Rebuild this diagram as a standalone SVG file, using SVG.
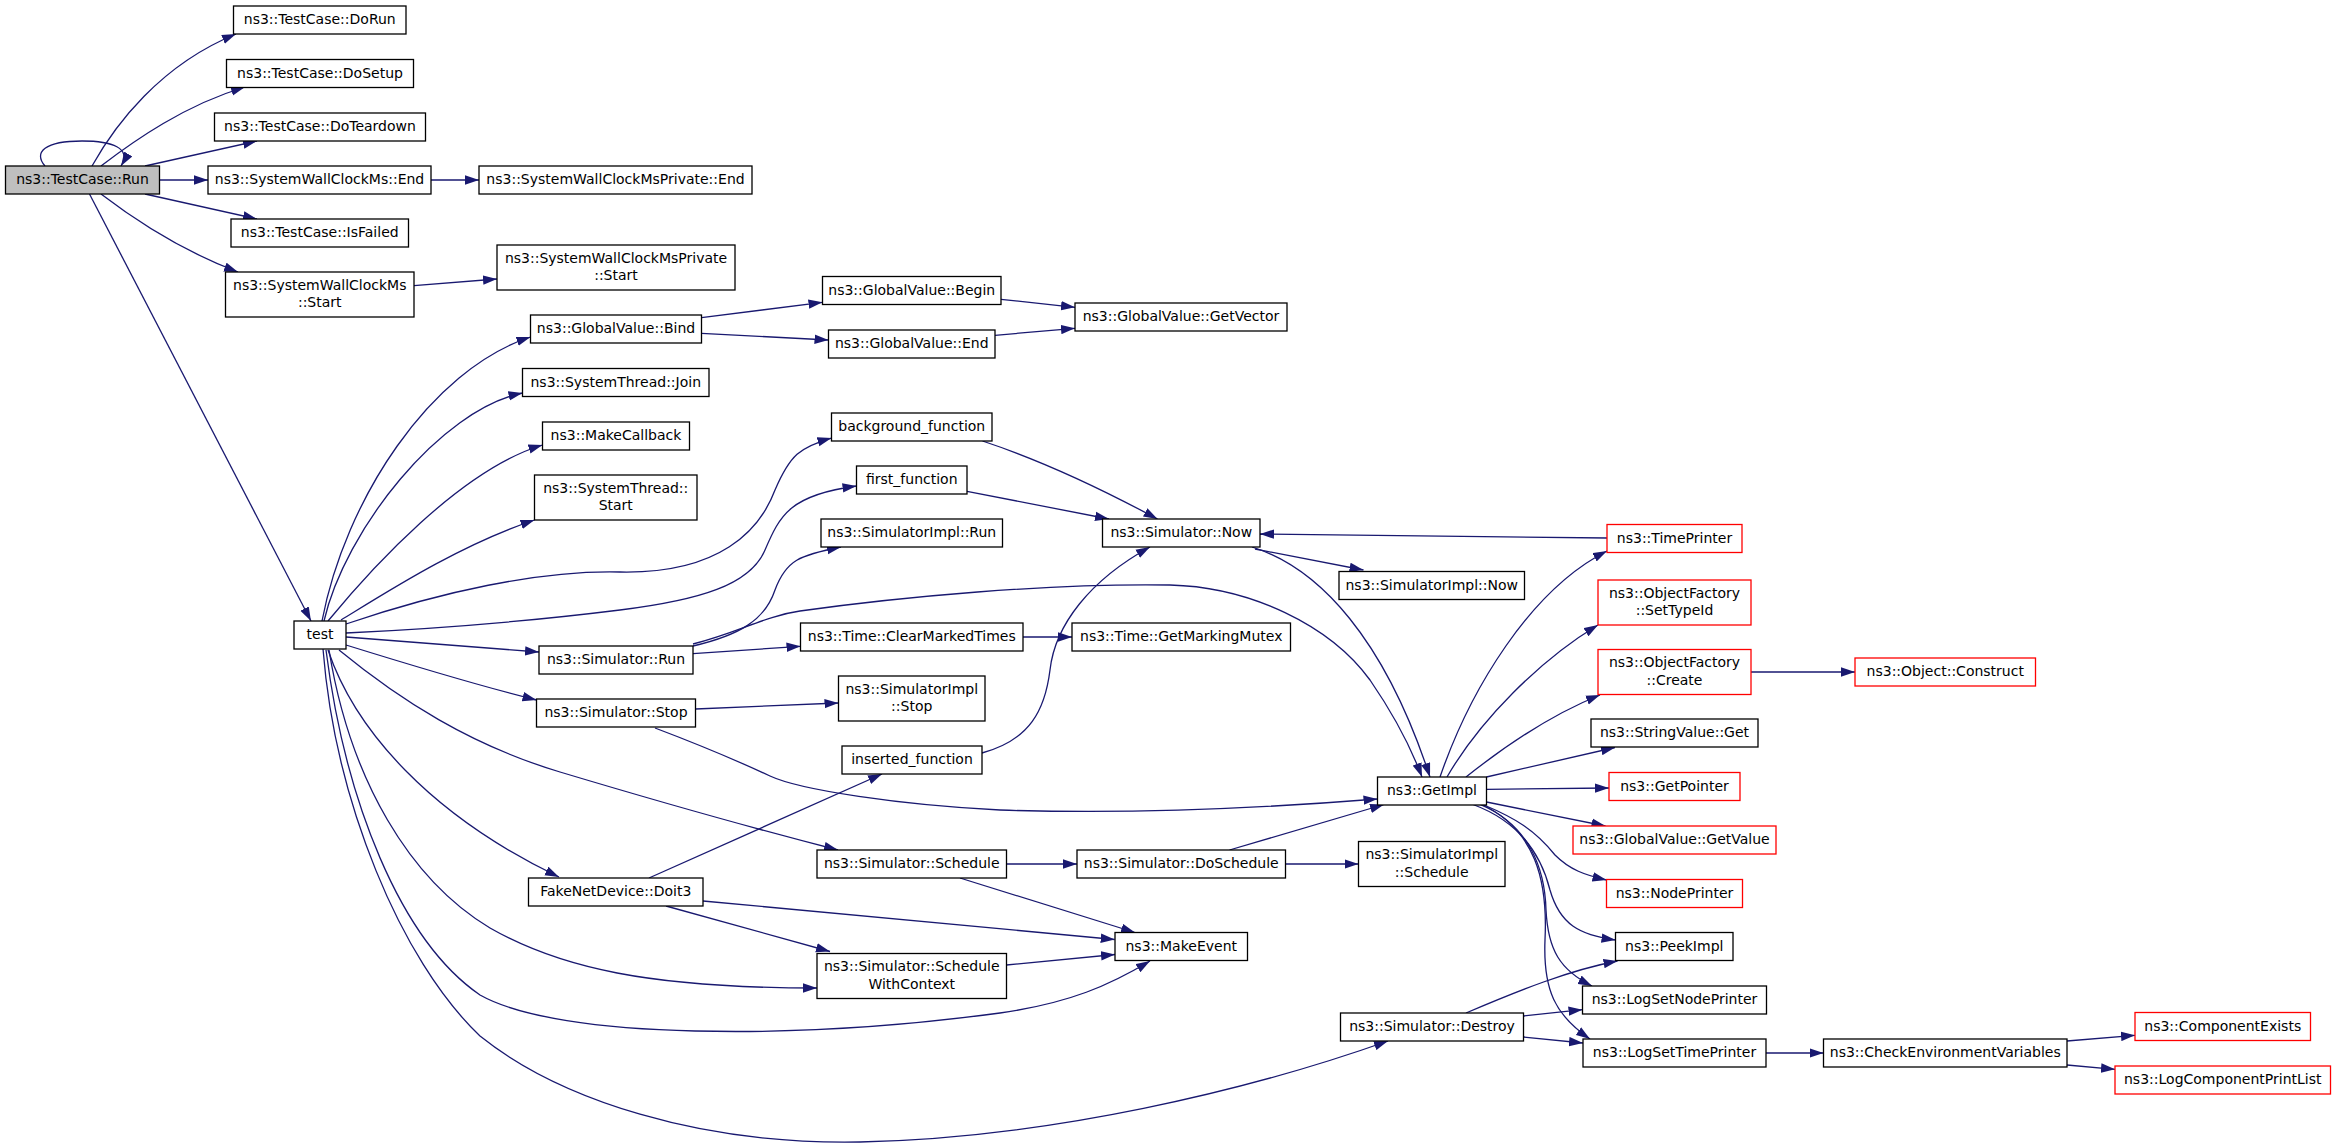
<svg xmlns="http://www.w3.org/2000/svg" width="2336" height="1148" viewBox="0 0 2336 1148">
<style>
.n rect{fill:#fff;stroke:#000;stroke-width:1.3}
.n.r rect{stroke:#ff0000}
.n.g rect{fill:#bfbfbf}
.n text{font-family:"DejaVu Sans","Liberation Sans",sans-serif;font-size:14px;text-anchor:middle;fill:#000}
#edges path{fill:none;stroke:#191970;stroke-width:1.3;marker-end:url(#a)}
</style>
<defs>
<marker id="a" markerUnits="userSpaceOnUse" markerWidth="14" markerHeight="10" viewBox="0 0 14 10" refX="14" refY="5" orient="auto"><path d="M0,0.3 L14,5 L0,9.7 z" fill="#191970"/></marker>
</defs>
<rect width="2336" height="1148" fill="#fff"/>
<g id="edges">
<path d="M92,166 C115,125 160,65 236,34"/>
<path d="M101,166 C135,140 185,105 245,87"/>
<path d="M145,166 L257,141"/>
<path d="M45,166 C33,152 45,141 82,141 C112,141 132,148 121,166"/>
<path d="M159.5,180 L208,180"/>
<path d="M431,180 L479,180"/>
<path d="M145,194 L257,219"/>
<path d="M101,194 C135,220 185,252 238,272"/>
<path d="M414,285.7 L497,279"/>
<path d="M89.5,194 L311,621"/>
<path d="M701.5,317.7 L822.5,302.3"/>
<path d="M701.5,333.3 L828.5,340"/>
<path d="M1001,299.3 L1075,307.3"/>
<path d="M995,335.3 L1075,328.3"/>
<path d="M322,621 C345,500 430,370 530.5,337"/>
<path d="M324,621 C345,530 440,410 522.5,393"/>
<path d="M328,621 C370,570 460,470 542.5,445"/>
<path d="M341,620 C390,590 460,545 534.5,520"/>
<path d="M346,624 C440,592 540,570 620,572 C720,574 760,530 775,490 C790,455 800,447 831.5,438"/>
<path d="M346,633 C450,628 540,620 620,610 C700,600 750,585 765,550 C780,515 790,495 856.5,486"/>
<path d="M346,637 L539,652"/>
<path d="M346,645 C420,668 480,686 536.5,700"/>
<path d="M339,650 C400,700 470,745 560,772 C660,802 760,830 838,850"/>
<path d="M328,650 C355,730 430,815 559,877"/>
<path d="M329,650 C350,780 410,880 490,928 C560,968 650,988 817,988"/>
<path d="M326,650 C345,800 400,940 480,995 C560,1040 800,1040 1000,1013 C1070,1003 1110,985 1150,961"/>
<path d="M323,649 C335,800 400,960 480,1036 C560,1100 700,1145 860,1142 C1050,1138 1250,1090 1388,1041"/>
<path d="M693,646 C740,635 765,620 775,590 C786,560 800,555 841,547"/>
<path d="M693,653.7 L800.5,646.3"/>
<path d="M693,644 C740,632 765,616 800,611 C900,597 1050,583 1170,585 C1250,587 1330,625 1370,680 C1392,712 1410,745 1422,777"/>
<path d="M1023,637 L1072,637"/>
<path d="M695.5,709 L838.5,703"/>
<path d="M655,728 C700,745 740,762 770,776 C800,790 900,805 1000,810 C1150,815 1290,806 1377.5,799"/>
<path d="M982.5,441 C1040,460 1100,488 1157.5,519"/>
<path d="M967,491.3 L1109,519"/>
<path d="M982,753 C1030,740 1045,710 1050,670 C1055,625 1090,580 1150,547"/>
<path d="M1607,538 L1260,534"/>
<path d="M1255,549 L1363.5,570"/>
<path d="M1252,547 C1320,568 1385,640 1430,777"/>
<path d="M1440,777 C1470,690 1530,590 1607,551"/>
<path d="M1447,777 C1480,720 1540,660 1598,625"/>
<path d="M1466,777 C1500,750 1550,715 1600,695"/>
<path d="M1486.5,777 L1615,747.5"/>
<path d="M1486.5,789.3 L1609,788"/>
<path d="M1486.5,802 L1605.5,826"/>
<path d="M1484,805 C1515,818 1535,830 1555,855 C1570,870 1585,875 1606.5,880"/>
<path d="M1473,804.5 C1515,820 1540,850 1550,890 C1560,925 1580,935 1615.5,940"/>
<path d="M1480,804.5 C1530,825 1545,870 1546,910 C1548,950 1560,970 1592,986"/>
<path d="M1482,804.5 C1535,830 1548,880 1545,940 C1543,990 1555,1015 1590,1039"/>
<path d="M1466,1013 C1520,990 1570,970 1617.5,961"/>
<path d="M1523.5,1016 L1582.5,1009.7"/>
<path d="M1523.5,1037 L1583,1043"/>
<path d="M1766,1053 L1823.5,1053"/>
<path d="M2067,1041 L2135,1035.3"/>
<path d="M2067,1065 L2115,1069.3"/>
<path d="M1751,672 L1855,672"/>
<path d="M649,878 L882,774"/>
<path d="M703,901 L1114.7,939.5"/>
<path d="M666,906 L830,951.5"/>
<path d="M1006.5,864 L1077,864"/>
<path d="M960,878 L1135,932.5"/>
<path d="M1006.5,965 L1115,954.5"/>
<path d="M1229.5,850 L1384,804.5"/>
<path d="M1285.5,864 L1358.5,864"/>
</g>
<g id="n_run" class="n g"><rect x="5.5" y="166" width="154" height="28"/><text x="82.5" y="184">ns3::TestCase::Run</text></g>
<g id="n_dorun" class="n"><rect x="233.5" y="6" width="172.5" height="28"/><text x="319.75" y="24">ns3::TestCase::DoRun</text></g>
<g id="n_dosetup" class="n"><rect x="226.5" y="59.5" width="187" height="28"/><text x="320" y="77.5">ns3::TestCase::DoSetup</text></g>
<g id="n_doteardown" class="n"><rect x="214.5" y="113" width="211" height="28"/><text x="320" y="131">ns3::TestCase::DoTeardown</text></g>
<g id="n_swcm_end" class="n"><rect x="208" y="166" width="223" height="28"/><text x="319.5" y="184">ns3::SystemWallClockMs::End</text></g>
<g id="n_swcmp_end" class="n"><rect x="479" y="166" width="273" height="28"/><text x="615.5" y="184">ns3::SystemWallClockMsPrivate::End</text></g>
<g id="n_isfailed" class="n"><rect x="231" y="219" width="177.5" height="28"/><text x="319.75" y="237">ns3::TestCase::IsFailed</text></g>
<g id="n_swcm_start" class="n"><rect x="225.5" y="272" width="188.5" height="45"/><text x="319.75" y="289.6">ns3::SystemWallClockMs</text><text x="319.75" y="307.3">::Start</text></g>
<g id="n_swcmp_start" class="n"><rect x="497" y="245" width="238" height="45"/><text x="616" y="262.6">ns3::SystemWallClockMsPrivate</text><text x="616" y="280.3">::Start</text></g>
<g id="n_bind" class="n"><rect x="530.5" y="315" width="171" height="28"/><text x="616" y="333">ns3::GlobalValue::Bind</text></g>
<g id="n_gv_begin" class="n"><rect x="822.5" y="276.5" width="178.5" height="28"/><text x="911.75" y="294.5">ns3::GlobalValue::Begin</text></g>
<g id="n_gv_end" class="n"><rect x="828.5" y="330" width="166.5" height="28"/><text x="911.75" y="348">ns3::GlobalValue::End</text></g>
<g id="n_getvector" class="n"><rect x="1075" y="303" width="212" height="28"/><text x="1181" y="321">ns3::GlobalValue::GetVector</text></g>
<g id="n_join" class="n"><rect x="522.5" y="368.5" width="186.5" height="28"/><text x="615.75" y="386.5">ns3::SystemThread::Join</text></g>
<g id="n_makecallback" class="n"><rect x="542.5" y="422" width="147" height="28"/><text x="616" y="440">ns3::MakeCallback</text></g>
<g id="n_st_start" class="n"><rect x="534.5" y="475" width="162.5" height="45"/><text x="615.75" y="492.6">ns3::SystemThread::</text><text x="615.75" y="510.3">Start</text></g>
<g id="n_test" class="n"><rect x="294" y="621" width="52" height="28"/><text x="320" y="639">test</text></g>
<g id="n_sim_run" class="n"><rect x="539" y="646" width="154" height="28"/><text x="616" y="664">ns3::Simulator::Run</text></g>
<g id="n_sim_stop" class="n"><rect x="536.5" y="699" width="159" height="28"/><text x="616" y="717">ns3::Simulator::Stop</text></g>
<g id="n_bg" class="n"><rect x="831.5" y="413" width="160.5" height="28"/><text x="911.75" y="431">background_function</text></g>
<g id="n_first" class="n"><rect x="856.5" y="466" width="110.5" height="28"/><text x="911.75" y="484">first_function</text></g>
<g id="n_simimpl_run" class="n"><rect x="821" y="519" width="181.5" height="28"/><text x="911.75" y="537">ns3::SimulatorImpl::Run</text></g>
<g id="n_now" class="n"><rect x="1102.5" y="519" width="157.5" height="28"/><text x="1181.25" y="537">ns3::Simulator::Now</text></g>
<g id="n_clearmarked" class="n"><rect x="800.5" y="623" width="222.5" height="28"/><text x="911.75" y="641">ns3::Time::ClearMarkedTimes</text></g>
<g id="n_mutex" class="n"><rect x="1072" y="623" width="218.5" height="28"/><text x="1181.25" y="641">ns3::Time::GetMarkingMutex</text></g>
<g id="n_simimpl_stop" class="n"><rect x="838.5" y="676" width="146.5" height="45"/><text x="911.75" y="693.6">ns3::SimulatorImpl</text><text x="911.75" y="711.3">::Stop</text></g>
<g id="n_inserted" class="n"><rect x="842" y="746" width="140" height="28"/><text x="912" y="764">inserted_function</text></g>
<g id="n_timeprinter" class="n r"><rect x="1607" y="524.5" width="135" height="28"/><text x="1674.5" y="542.5">ns3::TimePrinter</text></g>
<g id="n_simimpl_now" class="n"><rect x="1339" y="571.5" width="185.5" height="28"/><text x="1431.75" y="589.5">ns3::SimulatorImpl::Now</text></g>
<g id="n_settypeid" class="n r"><rect x="1598" y="580" width="153" height="45"/><text x="1674.5" y="597.6">ns3::ObjectFactory</text><text x="1674.5" y="615.3">::SetTypeId</text></g>
<g id="n_create" class="n r"><rect x="1598" y="649.5" width="153" height="45"/><text x="1674.5" y="667.1">ns3::ObjectFactory</text><text x="1674.5" y="684.8">::Create</text></g>
<g id="n_construct" class="n r"><rect x="1855" y="658" width="180.5" height="28"/><text x="1945.25" y="676">ns3::Object::Construct</text></g>
<g id="n_stringget" class="n"><rect x="1591" y="719" width="167" height="28"/><text x="1674.5" y="737">ns3::StringValue::Get</text></g>
<g id="n_getimpl" class="n"><rect x="1377.5" y="777" width="109" height="28"/><text x="1432" y="795">ns3::GetImpl</text></g>
<g id="n_getpointer" class="n r"><rect x="1609" y="772.5" width="131" height="28"/><text x="1674.5" y="790.5">ns3::GetPointer</text></g>
<g id="n_getvalue" class="n r"><rect x="1573" y="826" width="203" height="28"/><text x="1674.5" y="844">ns3::GlobalValue::GetValue</text></g>
<g id="n_simimpl_sched" class="n"><rect x="1358.5" y="841.5" width="146.5" height="45"/><text x="1431.75" y="859.1">ns3::SimulatorImpl</text><text x="1431.75" y="876.8">::Schedule</text></g>
<g id="n_nodeprinter" class="n r"><rect x="1606.5" y="879.5" width="136" height="28"/><text x="1674.5" y="897.5">ns3::NodePrinter</text></g>
<g id="n_peekimpl" class="n"><rect x="1615.5" y="932.5" width="117.5" height="28"/><text x="1674.25" y="950.5">ns3::PeekImpl</text></g>
<g id="n_logsetnode" class="n"><rect x="1582.5" y="986" width="184" height="28"/><text x="1674.5" y="1004">ns3::LogSetNodePrinter</text></g>
<g id="n_destroy" class="n"><rect x="1340.5" y="1013" width="183" height="28"/><text x="1432" y="1031">ns3::Simulator::Destroy</text></g>
<g id="n_logsettime" class="n"><rect x="1583" y="1039" width="183" height="28"/><text x="1674.5" y="1057">ns3::LogSetTimePrinter</text></g>
<g id="n_checkenv" class="n"><rect x="1823.5" y="1039" width="243.5" height="28"/><text x="1945.25" y="1057">ns3::CheckEnvironmentVariables</text></g>
<g id="n_compexists" class="n r"><rect x="2135" y="1012.5" width="175.5" height="28"/><text x="2222.75" y="1030.5">ns3::ComponentExists</text></g>
<g id="n_logcomp" class="n r"><rect x="2115" y="1066" width="215.5" height="28"/><text x="2222.75" y="1084">ns3::LogComponentPrintList</text></g>
<g id="n_sched" class="n"><rect x="817" y="850" width="189.5" height="28"/><text x="911.75" y="868">ns3::Simulator::Schedule</text></g>
<g id="n_dosched" class="n"><rect x="1077" y="850" width="208.5" height="28"/><text x="1181.25" y="868">ns3::Simulator::DoSchedule</text></g>
<g id="n_doit3" class="n"><rect x="528.5" y="878" width="174.5" height="28"/><text x="615.75" y="896">FakeNetDevice::Doit3</text></g>
<g id="n_schedctx" class="n"><rect x="817" y="953.5" width="189.5" height="45"/><text x="911.75" y="971.1">ns3::Simulator::Schedule</text><text x="911.75" y="988.8">WithContext</text></g>
<g id="n_makeevent" class="n"><rect x="1115" y="932.5" width="132.5" height="28"/><text x="1181.25" y="950.5">ns3::MakeEvent</text></g>
</svg>
